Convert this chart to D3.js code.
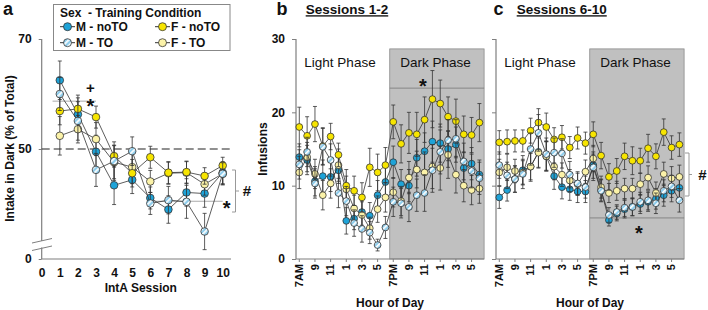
<!DOCTYPE html>
<html><head><meta charset="utf-8">
<script src="https://cdn.jsdelivr.net/npm/d3@7/dist/d3.min.js"></script>
<style>body{margin:0;background:#fff}svg{display:block}text{font-family:"Liberation Sans",Arial,sans-serif}</style>
</head><body><svg id="chart" width="708" height="310"></svg>
<script>
// ---------- DATA ----------
const seriesNames = ["M - noTO", "M - TO", "F - noTO", "F - TO"];
const sessions = [1, 2, 3, 4, 5, 6, 7, 8, 9, 10];
const aXTicks = [0, 1, 2, 3, 4, 5, 6, 7, 8, 9, 10];
const aYTickValues = [30, 50, 70];
const aYTickLabels = ["0", "50", "70"];
const aMnoTO = [62.5, 56.3, 49.5, 43.4, 44.4, 41.1, 39.0, 42.1, 41.9, 45.7];
const aMnoTOerr = [3.5, 3.0, 3.0, 3.5, 2.5, 2.0, 2.5, 2.5, 2.5, 2.0];
const aMTO = [60.0, 55.1, 46.2, 47.8, 49.6, 40.1, 40.7, 40.4, 35.0, 45.5];
const aMTOerr = [3.0, 3.5, 3.0, 3.5, 2.6, 2.0, 2.5, 3.0, 3.3, 2.0];
const aFnoTO = [56.9, 57.3, 55.8, 48.7, 45.6, 48.5, 45.7, 45.8, 45.1, 47.0];
const aFnoTOerr = [2.5, 2.5, 2.0, 2.0, 2.5, 2.0, 2.0, 2.0, 1.5, 1.5];
const aFTO = [52.4, 53.6, 51.8, 47.6, 46.7, 44.1, 45.6, 45.7, 43.6, 45.5];
const aFTOerr = [3.5, 2.5, 3.0, 3.0, 3.0, 2.0, 2.0, 2.0, 2.0, 2.0];

const hourIndex = [0,1,2,3,4,5,6,7,8,9,10,11,12,13,14,15,16,17,18,19,20,21,22,23];
const hourTickIndex = [0, 2, 4, 6, 8, 10, 12, 14, 16, 18, 20, 22];
const hourTickLabels = ["7AM", "9", "11", "1", "3", "5", "7PM", "9", "11", "1", "3", "5"];
const infTicks = [0, 10, 20, 30];

const bMnoTO = [13.9, 13.5, 10.6, 11.3, 11.2, 12.1, 5.2, 5.5, 6.4, 5.9, 8.7, 10.5, 13.2, 10.2, 10.0, 13.8, 14.7, 16.0, 15.8, 15.0, 15.6, 12.4, 13.0, 11.5];
const bMnoTOerr = [1.8, 2.0, 2.0, 2.2, 2.0, 1.8, 1.8, 1.5, 1.8, 1.8, 2.0, 2.0, 2.2, 2.0, 2.2, 2.5, 2.5, 2.8, 2.6, 2.5, 2.4, 2.2, 2.2, 2.0];
const bMTO = [12.9, 14.6, 10.3, 15.3, 13.5, 9.0, 7.9, 4.9, 4.1, 3.6, 1.9, 4.3, 7.8, 7.6, 7.1, 8.7, 9.0, 12.1, 14.6, 16.2, 16.4, 13.3, 12.0, 11.0];
const bMTOerr = [2.0, 2.0, 2.0, 2.5, 2.2, 2.0, 2.0, 1.8, 1.8, 1.5, 0.8, 1.5, 2.0, 2.0, 2.0, 2.2, 2.5, 3.0, 3.0, 2.8, 2.6, 2.5, 2.3, 2.2];
const bFnoTO = [18.0, 16.8, 18.4, 15.4, 16.7, 14.2, 10.0, 9.3, 8.4, 12.5, 11.8, 12.8, 18.7, 15.7, 17.2, 17.0, 19.0, 21.8, 21.2, 19.4, 18.8, 17.0, 16.9, 18.6];
const bFnoTOerr = [2.7, 2.6, 2.4, 2.5, 1.8, 1.6, 2.2, 2.0, 2.0, 2.6, 2.5, 2.4, 2.3, 2.6, 2.8, 3.0, 3.1, 3.9, 3.2, 2.7, 3.0, 2.5, 2.4, 2.6];
const bFTO = [11.8, 13.9, 11.6, 8.7, 10.3, 12.8, 9.5, 6.9, 6.0, 4.2, 6.8, 8.4, 9.1, 7.9, 11.1, 12.2, 11.8, 12.6, 12.4, 14.2, 11.5, 10.0, 9.4, 9.6];
const bFTOerr = [2.2, 2.0, 2.0, 2.0, 2.0, 2.2, 1.8, 1.8, 1.8, 1.5, 1.8, 2.0, 2.0, 2.0, 2.2, 2.5, 2.8, 3.0, 3.0, 3.2, 2.5, 2.2, 2.0, 2.0];

const cMnoTO = [8.4, 9.4, 10.9, 12.1, 12.6, 14.6, 14.0, 11.3, 9.8, 9.5, 9.2, 9.2, 12.8, 9.4, 5.3, 6.2, 6.8, 7.1, 7.5, 7.8, 8.2, 8.7, 9.3, 9.7];
const cMnoTOerr = [1.5, 1.5, 1.8, 2.0, 2.0, 2.2, 2.0, 1.8, 1.6, 1.5, 1.5, 1.5, 1.8, 1.5, 0.8, 1.0, 1.2, 1.2, 1.3, 1.3, 1.4, 1.5, 1.5, 1.6];
const cMTO = [12.8, 11.4, 10.9, 11.6, 15.0, 17.2, 14.3, 14.5, 14.4, 11.5, 10.3, 9.8, 12.5, 9.3, 6.0, 6.4, 7.0, 7.1, 7.8, 8.0, 7.6, 9.3, 9.9, 8.0];
const cMTOerr = [1.8, 1.8, 1.8, 2.0, 2.2, 2.5, 2.2, 2.0, 2.0, 1.8, 1.6, 1.5, 1.8, 1.5, 1.0, 1.0, 1.2, 1.2, 1.3, 1.3, 1.4, 1.5, 1.5, 1.6];
const cFnoTO = [15.9, 16.0, 16.1, 16.1, 17.5, 18.6, 18.0, 16.3, 16.6, 15.2, 16.5, 15.8, 17.0, 14.1, 11.2, 12.0, 14.0, 13.4, 13.4, 15.1, 14.0, 17.3, 15.2, 15.6];
const cFnoTOerr = [1.6, 1.6, 1.5, 1.5, 1.7, 1.9, 1.9, 1.6, 1.6, 1.5, 1.5, 1.5, 1.7, 1.8, 1.8, 1.7, 1.8, 1.9, 1.7, 1.9, 1.7, 1.8, 1.6, 1.6];
const cFTO = [11.8, 12.5, 12.0, 11.8, 12.6, 14.5, 14.0, 12.6, 11.5, 10.7, 10.2, 11.9, 13.7, 9.8, 9.0, 9.3, 9.6, 9.6, 10.2, 11.1, 9.0, 11.6, 11.0, 11.2];
const cFTOerr = [1.8, 1.8, 1.6, 1.6, 1.8, 2.0, 2.0, 1.8, 1.6, 1.5, 1.5, 1.6, 1.8, 1.5, 1.3, 1.3, 1.4, 1.4, 1.5, 1.6, 1.5, 1.6, 1.6, 1.6];

// ---------- SETUP ----------
const svg = d3.select("#chart");
const defs = svg.append("defs");
const pat = defs.append("pattern").attr("id", "stripe").attr("patternUnits", "userSpaceOnUse")
  .attr("width", 4).attr("height", 4).attr("patternTransform", "rotate(-45)");
pat.append("rect").attr("width", 4).attr("height", 4).attr("fill", "#8fcdec");
pat.append("rect").attr("width", 4).attr("height", 1.7).attr("fill", "#ffffff");

const styles = {
  "M - noTO": { fill: "#1ea3d8" },
  "M - TO": { fill: "url(#stripe)" },
  "F - noTO": { fill: "#f7e500" },
  "F - TO": { fill: "#fbf2a8" }
};
const AX = "#7f7f7f";
const INK = "#333";

function drawSeries(g, xs, vals, errs, x, y, name, r) {
  const pts = xs.map((d, i) => ({ x: d, v: vals[i], e: errs[i] }));
  const line = d3.line().x(d => x(d.x)).y(d => y(d.v));
  g.append("path").datum(pts).attr("d", line).attr("fill", "none").attr("stroke", INK).attr("stroke-width", 0.8);
  const eb = g.append("g").attr("stroke", INK).attr("stroke-width", 0.8);
  pts.forEach(p => {
    eb.append("line").attr("x1", x(p.x)).attr("x2", x(p.x)).attr("y1", y(p.v - p.e)).attr("y2", y(p.v + p.e));
    eb.append("line").attr("x1", x(p.x) - 2).attr("x2", x(p.x) + 2).attr("y1", y(p.v + p.e)).attr("y2", y(p.v + p.e));
    eb.append("line").attr("x1", x(p.x) - 2).attr("x2", x(p.x) + 2).attr("y1", y(p.v - p.e)).attr("y2", y(p.v - p.e));
  });
  g.selectAll(null).data(pts).enter().append("circle")
    .attr("cx", d => x(d.x)).attr("cy", d => y(d.v)).attr("r", r)
    .attr("fill", styles[name].fill).attr("stroke", INK).attr("stroke-width", 0.8);
}

function txt(x, y, s, o = {}) {
  const t = svg.append("text").attr("x", x).attr("y", y).text(s)
    .attr("font-size", o.size || 12).attr("font-weight", o.weight || "bold")
    .attr("text-anchor", o.anchor || "middle").attr("fill", o.fill || "#111");
  if (o.dy) t.attr("dy", o.dy);
  if (o.rotate) t.attr("transform", `rotate(${o.rotate},${x},${y})`);
  if (o.deco) t.attr("text-decoration", o.deco);
  return t;
}

// ---------- PANEL A ----------
const xA = d3.scaleLinear().domain([0, 10]).range([41.7, 222.7]);
const yA = d3.scaleLinear().domain([30, 70]).range([259, 39]);
const gA = svg.append("g");

// axes
const yAxA = gA.append("g").attr("transform", "translate(41.7,0)")
  .call(d3.axisLeft(yA).tickValues(aYTickValues).tickFormat((d, i) => aYTickLabels[i]).tickSize(3).tickPadding(7));
yAxA.select(".domain").remove();
yAxA.selectAll("line").attr("stroke", AX);
yAxA.selectAll("text").attr("font-size", 12).attr("font-weight", "bold").attr("fill", "#111")
  .attr("font-family", "Liberation Sans, Arial, sans-serif");
gA.append("line").attr("x1", 41.7).attr("x2", 41.7).attr("y1", yA(70)).attr("y2", 241).attr("stroke", AX).attr("stroke-width", 1.2);
gA.append("line").attr("x1", 41.7).attr("x2", 41.7).attr("y1", 247.5).attr("y2", yA(30)).attr("stroke", AX).attr("stroke-width", 1.2);
gA.append("line").attr("x1", 32).attr("x2", 52).attr("y1", 243).attr("y2", 238.5).attr("stroke", AX).attr("stroke-width", 1);
gA.append("line").attr("x1", 32).attr("x2", 52).attr("y1", 250.5).attr("y2", 246).attr("stroke", AX).attr("stroke-width", 1);

const xAxA = gA.append("g").attr("transform", `translate(0,${yA(30)})`)
  .call(d3.axisBottom(xA).tickValues(aXTicks).tickSize(0).tickPadding(9));
xAxA.select(".domain").remove();
xAxA.selectAll("text").attr("font-size", 12).attr("font-weight", "bold").attr("fill", "#111")
  .attr("font-family", "Liberation Sans, Arial, sans-serif");
gA.append("line").attr("x1", 41.7).attr("x2", 231).attr("y1", yA(30)).attr("y2", yA(30)).attr("stroke", AX).attr("stroke-width", 1.2);

// dashed 50 line
gA.append("line").attr("x1", 41.7).attr("x2", 231).attr("y1", yA(50)).attr("y2", yA(50))
  .attr("stroke", "#222").attr("stroke-width", 1.2).attr("stroke-dasharray", "8,4");
// reference lines
gA.append("line").attr("x1", xA(0.6)).attr("x2", xA(3)).attr("y1", yA(58.7)).attr("y2", yA(58.7)).attr("stroke", "#aaa").attr("stroke-width", 1);
gA.append("line").attr("x1", xA(6)).attr("x2", xA(10)).attr("y1", yA(40.5)).attr("y2", yA(40.5)).attr("stroke", "#aaa").attr("stroke-width", 1);

drawSeries(gA, sessions, aMnoTO, aMnoTOerr, xA, yA, "M - noTO", 3.8);
drawSeries(gA, sessions, aFTO, aFTOerr, xA, yA, "F - TO", 3.8);
drawSeries(gA, sessions, aFnoTO, aFnoTOerr, xA, yA, "F - noTO", 3.8);
drawSeries(gA, sessions, aMTO, aMTOerr, xA, yA, "M - TO", 3.8);

// bracket + annotations
gA.append("path").attr("d", "M232,170H235.5V212H232M235.5,191H239").attr("fill", "none").attr("stroke", "#999").attr("stroke-width", 1);
txt(247, 196, "#", { size: 15 });
txt(226.7, 214.5, "*", { size: 20 });
txt(90.3, 93, "+", { size: 15 });
txt(90.3, 113, "*", { size: 20 });

// legend
gA.append("rect").attr("x", 53.5).attr("y", 4.5).attr("width", 176.5).attr("height", 46).attr("fill", "#fff").attr("stroke", "#888").attr("stroke-width", 1);
txt(60, 12.5, "Sex  - Training Condition", { anchor: "start", dy: "0.35em" }).attr("xml:space", "preserve");
const legItems = [
  { name: seriesNames[0], x: 60, y: 26.7 },
  { name: seriesNames[2], x: 155, y: 26.7 },
  { name: seriesNames[1], x: 60, y: 42.7 },
  { name: seriesNames[3], x: 155, y: 42.7 }
];
legItems.forEach(it => {
  gA.append("line").attr("x1", it.x).attr("x2", it.x + 15).attr("y1", it.y).attr("y2", it.y).attr("stroke", INK).attr("stroke-width", 1);
  gA.append("circle").attr("cx", it.x + 7.5).attr("cy", it.y).attr("r", 4).attr("fill", styles[it.name].fill).attr("stroke", INK).attr("stroke-width", 0.8);
  txt(it.x + 16, it.y, it.name, { anchor: "start", dy: "0.35em" });
});

txt(8, 9, "a", { size: 18, dy: "0.35em" });
txt(140.8, 287.5, "IntA Session", { dy: "0.35em" });
txt(10, 148.5, "Intake in Dark (% of Total)", { dy: "0.35em", rotate: -90 });

// ---------- PANELS B & C ----------
function hourPanel(x0, title, letter, lx, tx, data, ann) {
  const x = d3.scaleLinear().domain([0, 23]).range([x0 + 3.3, x0 + 183.4]);
  const y = d3.scaleLinear().domain([0, 30]).range([259, 39]);
  const g = svg.append("g");
  // dark phase shading
  g.append("rect").attr("x", x(11.55)).attr("y", y(28.65)).attr("width", x(23.6) - x(11.55)).attr("height", y(0) - y(28.65))
    .attr("fill", "#c0c0c0").attr("stroke", "#8a8a8a").attr("stroke-width", 0.8);
  // reference line
  g.append("line").attr("x1", x(11.55)).attr("x2", x(23.6)).attr("y1", y(ann.lineV)).attr("y2", y(ann.lineV)).attr("stroke", "#777").attr("stroke-width", 0.8);

  const ya = g.append("g").attr("transform", `translate(${x0},0)`)
    .call(d3.axisLeft(y).tickValues(infTicks).tickSize(4).tickPadding(7).tickFormat(ann.labels ? d3.format("d") : () => ""));
  ya.select(".domain").remove();
  ya.selectAll("line").attr("stroke", AX);
  ya.selectAll("text").attr("font-size", 12).attr("font-weight", "bold").attr("fill", "#111").attr("font-family", "Liberation Sans, Arial, sans-serif");
  g.append("line").attr("x1", x0).attr("x2", x0).attr("y1", y(30)).attr("y2", y(0)).attr("stroke", AX).attr("stroke-width", 1.2);
  g.append("line").attr("x1", x0).attr("x2", x(23.6)).attr("y1", y(0)).attr("y2", y(0)).attr("stroke", AX).attr("stroke-width", 1.2);
  hourTickIndex.forEach((d, i) => {
    g.append("line").attr("x1", x(d)).attr("x2", x(d)).attr("y1", y(0)).attr("y2", y(0) + 3).attr("stroke", AX);
    g.append("text").attr("transform", `translate(${x(d)},264) rotate(-90)`).attr("text-anchor", "end").attr("dy", "0.35em")
      .attr("font-size", 11).attr("font-weight", "bold").attr("fill", "#111").text(hourTickLabels[i]);
  });

  drawSeries(g, hourIndex, data.MnoTO, data.MnoTOerr, x, y, "M - noTO", 3.4);
  drawSeries(g, hourIndex, data.FTO, data.FTOerr, x, y, "F - TO", 3.4);
  drawSeries(g, hourIndex, data.FnoTO, data.FnoTOerr, x, y, "F - noTO", 3.4);
  drawSeries(g, hourIndex, data.MTO, data.MTOerr, x, y, "M - TO", 3.4);

  txt(x0 + 44, 62, "Light Phase", { weight: "normal", size: 13.5, dy: "0.35em" });
  txt(x0 + 139.5, 62, "Dark Phase", { weight: "normal", size: 13.5, dy: "0.35em" });
  txt(ann.starX, ann.starY + 11.4, "*", { size: 20 });
  txt(x0 + 94, 302.7, "Hour of Day", { dy: "0.35em" });
  txt(lx, 9, letter, { size: 18, dy: "0.35em" });
  txt(tx, 9.5, title, { size: 13.5, anchor: "start", dy: "0.35em", deco: "underline" });
}

hourPanel(296, "Sessions 1-2", "b", 282, 305.7,
  { MnoTO: bMnoTO, MnoTOerr: bMnoTOerr, MTO: bMTO, MTOerr: bMTOerr, FnoTO: bFnoTO, FnoTOerr: bFnoTOerr, FTO: bFTO, FTOerr: bFTOerr },
  { lineV: 23.3, labels: true, starX: 423, starY: 82 });
hourPanel(496, "Sessions 6-10", "c", 498.5, 516.7,
  { MnoTO: cMnoTO, MnoTOerr: cMnoTOerr, MTO: cMTO, MTOerr: cMTOerr, FnoTO: cFnoTO, FnoTOerr: cFnoTOerr, FTO: cFTO, FTOerr: cFTOerr },
  { lineV: 5.6, labels: false, starX: 639, starY: 228.3 });

txt(263, 149, "Infusions", { dy: "0.35em", rotate: -90 });
svg.append("path").attr("d", "M685,153H689V196H685M689,174.5H692").attr("fill", "none").attr("stroke", "#999").attr("stroke-width", 1);
txt(702.5, 180, "#", { size: 15 });
</script></body></html>
